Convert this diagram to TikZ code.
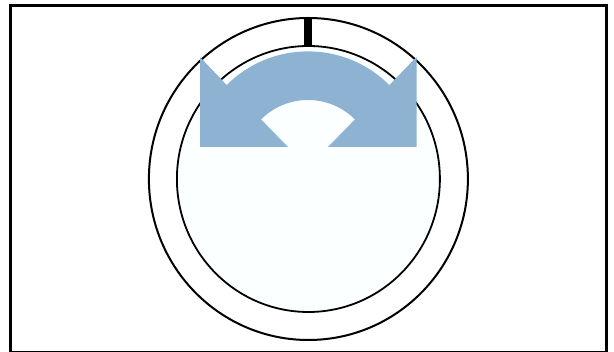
\documentclass[tikz,border=0pt]{standalone}
\usepackage{xcolor}
\usetikzlibrary{calc}
\definecolor{dialblue}{HTML}{8EB2D2}
\definecolor{dialface}{HTML}{FBFFFF}

\begin{document}
\begin{tikzpicture}[
            x=1pt, y=1pt,
            frame/.style   ={draw=black, line width=3pt, fill=white},
            ring/.style    ={draw=black, line width=2pt, fill=white},
            face/.style    ={draw=black, line width=1.8pt, fill=dialface},
            tick/.style    ={draw=none, fill=black},
            sweep/.style   ={draw=none, fill=dialblue}
        ]
        \useasboundingbox (0,0) rectangle (614,352);
        \draw[frame] (10,-1) rectangle (606.5,346.5);

        \coordinate (center) at (308.4,173);
        \coordinate (pivot)  at (308,185.6);

        \draw[ring] (center) ellipse [x radius=159.5, y radius=161];
        \draw[face] (center) ellipse [x radius=131.5, y radius=133];
        \fill[tick] (304,306) rectangle (312,334);

        % double headed sweep
        \fill[sweep] (200,205) -- (200,295)
            -- ($(pivot)+(135:115)$) arc[start angle=135, end angle=45, radius=115]
            -- (416.5,295) -- (416.5,205) -- (328,205)
            -- ($(pivot)+(45:66.4)$) arc[start angle=45, end angle=135, radius=66.4]
            -- (288,205) -- cycle;
\end{tikzpicture}
\end{document}
